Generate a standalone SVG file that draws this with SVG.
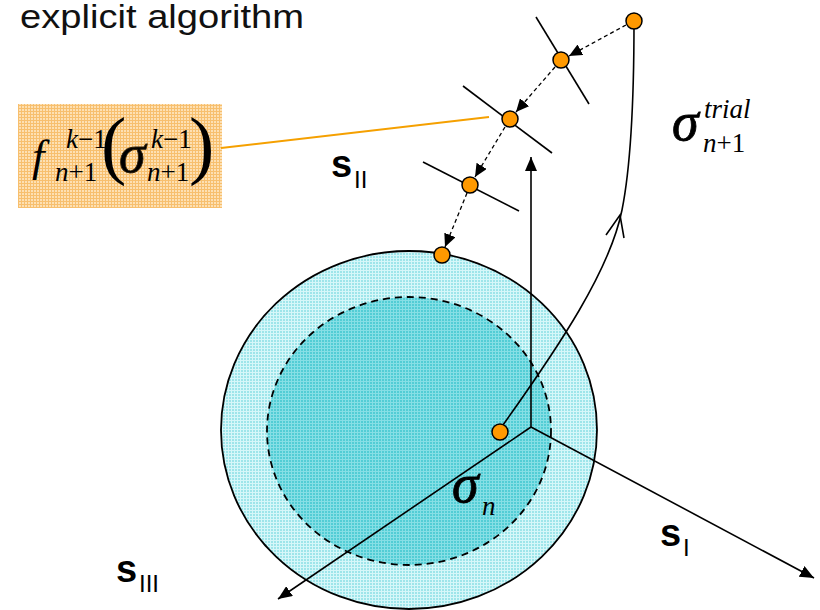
<svg xmlns="http://www.w3.org/2000/svg" width="820" height="610" viewBox="0 0 820 610">
<defs>
<pattern id="pOuter" width="3" height="3" patternUnits="userSpaceOnUse">
<rect width="3" height="3" fill="#9ee5ea"/>
<path d="M0 0.5H3M0.5 0V3" stroke="#d6f7f9" stroke-width="1"/>
</pattern>
<pattern id="pInner" width="3" height="3" patternUnits="userSpaceOnUse">
<rect width="3" height="3" fill="#52cdd5"/>
<path d="M0 0.5H3M0.5 0V3" stroke="#86dfe5" stroke-width="1"/>
</pattern>
<pattern id="pBox" width="3" height="3" patternUnits="userSpaceOnUse">
<rect width="3" height="3" fill="#fde0b3"/>
<path d="M0 0.5H3M0.5 0V3" stroke="#f7bf6e" stroke-width="1"/>
</pattern>
<marker id="ah" markerWidth="14" markerHeight="12" refX="14" refY="6" orient="auto" markerUnits="userSpaceOnUse">
<path d="M0 0L14 6L0 12Z" fill="#000"/>
</marker>
<marker id="ahd" markerWidth="13" markerHeight="12" refX="13" refY="6" orient="auto" markerUnits="userSpaceOnUse">
<path d="M0 0L13 6L0 12Z" fill="#000"/>
</marker>
</defs>
<style>
.ser{font-family:"Liberation Serif","Times New Roman",serif;fill:#000}
.it{font-style:italic}
.sig{font-family:"Liberation Serif","Times New Roman",serif;font-style:italic;stroke:#000;stroke-width:0.8}
.lab{font-family:"Liberation Sans",Arial,sans-serif;font-weight:bold;fill:#000}
.sub{font-family:"Liberation Sans",Arial,sans-serif;font-weight:normal;fill:#000}
.dot{fill:#ff9900;stroke:#000;stroke-width:1.5}
.ax{stroke:#000;stroke-width:1.6;fill:none}
.dsh{stroke:#000;stroke-width:1.3;fill:none;stroke-dasharray:4 3}
.yld{stroke:#000;stroke-width:1.6;fill:none}
</style>
<rect width="820" height="610" fill="#fff"/>

<g id="title">
<text x="20" y="28" font-family="'Liberation Sans',Arial,sans-serif" font-size="33" fill="#111" textLength="284" lengthAdjust="spacingAndGlyphs">explicit algorithm</text>
</g>

<g id="surface-outer">
<ellipse cx="409" cy="430" rx="188" ry="179" fill="url(#pOuter)" stroke="#000" stroke-width="1.8"/>
</g>
<g id="surface-inner">
<ellipse cx="409" cy="431" rx="142" ry="134" fill="url(#pInner)" stroke="#000" stroke-width="1.8" stroke-dasharray="7 5"/>
</g>

<g id="formula-box">
<rect x="18" y="104" width="204" height="104" fill="url(#pBox)"/>
<text class="ser" fill="#2a1c08" font-size="27"><tspan x="32" y="171" font-size="45" font-style="italic">f</tspan><tspan x="66" y="148" font-style="italic">k</tspan><tspan>−1</tspan><tspan x="55" y="181" font-style="italic">n</tspan><tspan>+1</tspan><tspan x="101" y="170" font-size="76">(</tspan><tspan x="119" y="172" font-size="54" font-style="italic" stroke="#2a1c08" stroke-width="0.8">σ</tspan><tspan x="151" y="148" font-style="italic">k</tspan><tspan>−1</tspan><tspan x="147" y="181" font-style="italic">n</tspan><tspan>+1</tspan><tspan x="189" y="170" font-size="76">)</tspan></text>
</g>

<g id="connectors">
<line x1="221" y1="148" x2="489" y2="117" stroke="#f5a000" stroke-width="2"/>
<line class="ax" x1="531" y1="427" x2="531" y2="157" marker-end="url(#ah)"/>
<line class="ax" x1="531" y1="427" x2="814" y2="578" marker-end="url(#ah)"/>
<line class="ax" x1="531" y1="427" x2="278" y2="599" marker-end="url(#ah)"/>
<path class="ax" d="M503,425 C560,345 610,270 622,210 C632,160 634,90 634,22"/>
<polyline class="ax" points="606,235 620,215 624,238"/>
<line class="dsh" x1="626" y1="25" x2="569" y2="56" marker-end="url(#ahd)"/>
<line class="dsh" x1="555" y1="67" x2="516" y2="112" marker-end="url(#ahd)"/>
<line class="dsh" x1="505" y1="127" x2="475" y2="177" marker-end="url(#ahd)"/>
<line class="dsh" x1="467" y1="193" x2="445" y2="247" marker-end="url(#ahd)"/>
</g>

<g id="yield-lines">
<line class="yld" x1="536" y1="17" x2="589" y2="104"/>
<line class="yld" x1="463" y1="86" x2="552" y2="153"/>
<line class="yld" x1="423" y1="162" x2="519" y2="211"/>
</g>

<g id="dot-n"><circle class="dot" cx="500" cy="432" r="8"/></g>
<g id="dot-trial"><circle class="dot" cx="634" cy="21" r="8"/></g>
<g id="dot-k1"><circle class="dot" cx="561" cy="60" r="8"/></g>
<g id="dot-k2"><circle class="dot" cx="510" cy="119" r="8"/></g>
<g id="dot-k3"><circle class="dot" cx="470" cy="185" r="8"/></g>
<g id="dot-final"><circle class="dot" cx="442" cy="255" r="8"/></g>

<g id="label-trial">
<text class="sig" x="672" y="140" font-size="54">σ</text>
<text class="ser it" x="704" y="118" font-size="27">trial</text>
<text class="ser" x="703" y="152" font-size="27"><tspan font-style="italic">n</tspan>+1</text>
</g>
<g id="label-sn">
<text class="sig" x="452" y="502" font-size="54">σ</text>
<text class="ser it" x="482" y="515" font-size="27">n</text>
</g>
<g id="label-s2">
<text class="lab" x="331" y="177" font-size="38">s</text>
<text class="sub" x="354" y="188" font-size="24">II</text>
</g>
<g id="label-s1">
<text class="lab" x="660" y="546" font-size="38">s</text>
<text class="sub" x="683" y="556" font-size="24">I</text>
</g>
<g id="label-s3">
<text class="lab" x="116" y="582" font-size="38">s</text>
<text class="sub" x="139" y="592" font-size="24">III</text>
</g>
</svg>
